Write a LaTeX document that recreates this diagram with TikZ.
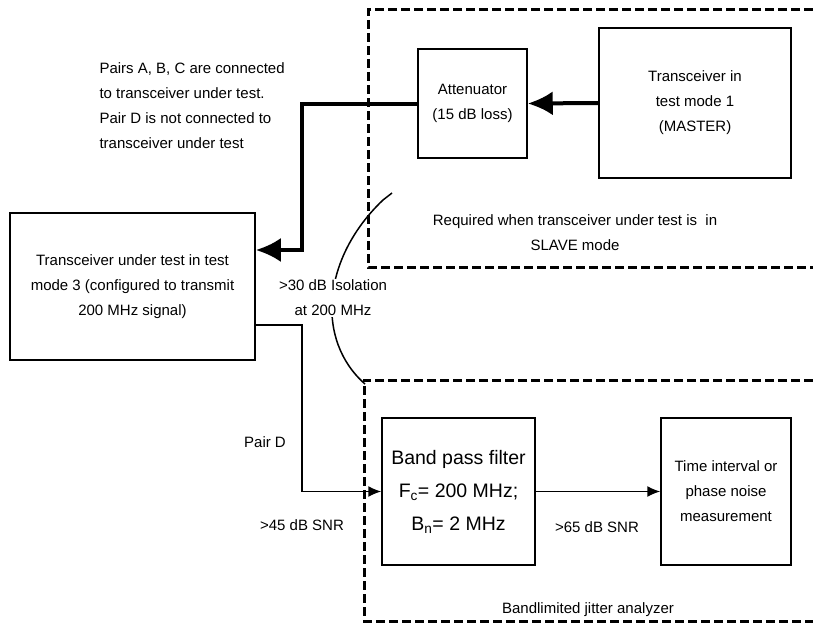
\documentclass[tikz,border=0pt]{standalone}
\usepackage{fontspec}
\setmainfont{Liberation Sans}
\usetikzlibrary{arrows,arrows.meta,positioning}

\tikzset{
	blk/.style={draw=black, line width=1.5pt, align=center,
		font=\fontsize{15}{25}\selectfont},
	bigblk/.style={blk, font=\fontsize{19.5}{33}\selectfont},
	note/.style={align=center, font=\fontsize{15}{25}\selectfont},
	dashbox/.style={draw=black, line width=3pt, dash pattern=on 9pt off 4pt},
	bigarrow/.style={draw=black, line width=4pt, -{Latex[length=25pt,width=24pt]}},
	sigarrow/.style={draw=black, line width=1.5pt, -{Latex[length=13pt,width=11pt]}},
}

\begin{document}
\begin{tikzpicture}[x=1pt, y=-1pt]
	\useasboundingbox (0,0) rectangle (813,626);
	% dashed enclosures (open to the right)
	\draw[dashbox] (813,10) -- (368,10) -- (368,267) -- (813,267);
	\draw[dashbox] (813,380) -- (364,380) -- (364,621) -- (813,621);
%
	\node[blk, minimum width=109pt, minimum height=109pt] (att) at (472.5,103.5)
		{Attenuator\\(15 dB loss)};
	\node[blk, minimum width=192pt, minimum height=150pt] (master) at (695,103)
		{Transceiver in\\test mode 1\\(MASTER)};
	\node[blk, minimum width=245pt, minimum height=147pt] (dut) at (132.5,286.5)
		{Transceiver under test in test\\mode 3 (configured to transmit\\200 MHz signal)};
	\node[bigblk, minimum width=153pt, minimum height=147pt] (bpf) at (458.5,491.5)
		{Band pass filter\\F\textsubscript{c}= 200 MHz;\\B\textsubscript{n}= 2 MHz};
	\node[blk, minimum width=130pt, minimum height=147pt] (meas) at (726,491.5)
		{Time interval or\\phase noise\\measurement};
%
	\node[note, align=left, anchor=north west] (pairs) at (96,59)
		{Pairs A, B, C are connected\\to transceiver under test.\\Pair D is not connected to\\transceiver under test};
	\node[note] (slave) at (575,233) {Required when transceiver under test is \ in\\SLAVE mode};
	\node[note] (pairD) at (265,442) {Pair D};
	\node[note] (snr45) at (302,525) {>45 dB SNR};
	\node[note] (snr65) at (597,527) {>65 dB SNR};
	\node[note] (jitter) at (588,610) {Bandlimited jitter analyzer};
%
	% isolation arc between the two enclosures
	\draw[line width=1.5pt] (392,193) -- (383,200) .. controls (322,258) and (315,340) .. (365,384);
	\node[note, fill=white, inner sep=1pt] (iso) at (333,298) {>30 dB Isolation\\at 200 MHz};
%
	\draw[bigarrow] (master.west) -- (att.east);
	\draw[bigarrow] (att.west) -| (302,250) -- (dut.east |- 302,250);
	\draw[sigarrow] (dut.east |- 0,325) -| (302,491.5) -- (bpf.west);
	\draw[sigarrow] (bpf.east) -- (meas.west);
\end{tikzpicture}
\end{document}
